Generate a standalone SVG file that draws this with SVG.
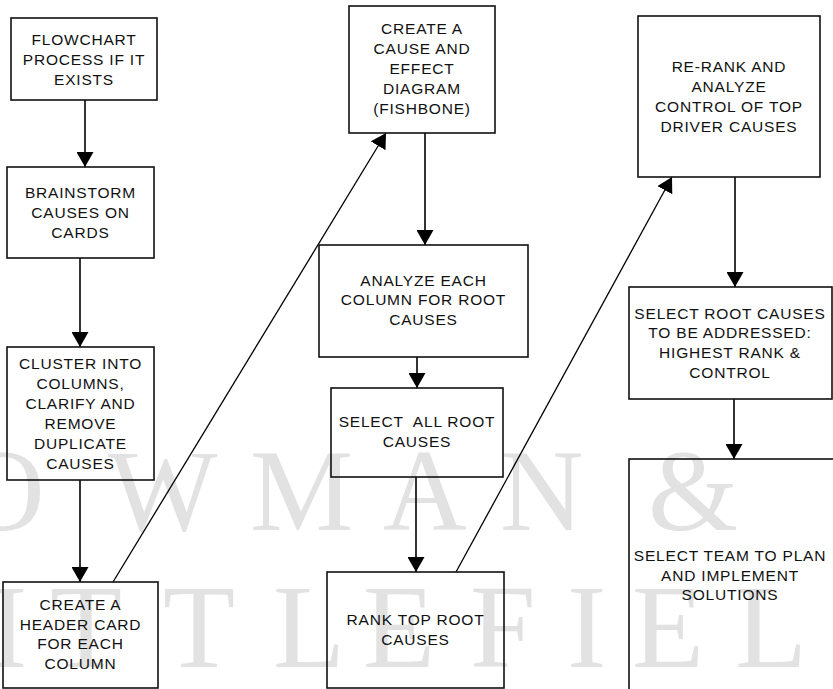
<svg xmlns="http://www.w3.org/2000/svg" width="833" height="689" viewBox="0 0 833 689">
  <defs>
    <marker id="head" viewBox="0 0 15 17" refX="15" refY="8.5" markerWidth="15" markerHeight="17" markerUnits="userSpaceOnUse" orient="auto">
      <path d="M0,0 L15,8.5 L0,17 z" fill="#000"/>
    </marker>
    <style>
      .box { fill: none; stroke: #111; stroke-width: 1.6; }
      .lbl { font-family: "Liberation Sans", Arial, sans-serif; font-size: 15.5px; letter-spacing: 0.8px; fill: #111; text-anchor: middle; }
      .wire { fill: none; stroke: #000; stroke-width: 1.6; marker-end: url(#head); }
      .slant { fill: none; stroke: #000; stroke-width: 1.3; marker-end: url(#head); }
      .mark { font-family: "Liberation Serif", "Times New Roman", serif; fill: #e2e2e2; }
    </style>
  </defs>
  <rect width="833" height="689" fill="#fff"/>

  <!-- publisher watermark behind the chart -->
  <g id="watermark">
    <text class="mark" font-size="116" y="530"><tspan x="-39">O</tspan><tspan x="108">W</tspan><tspan x="250">M</tspan><tspan x="383">A</tspan><tspan x="500">N</tspan><tspan x="648">&amp;</tspan></text>
    <text class="mark" font-size="118" y="667"><tspan x="-12">I</tspan><tspan x="50">T</tspan><tspan x="163">T</tspan><tspan x="273">L</tspan><tspan x="363">E</tspan><tspan x="470">F</tspan><tspan x="567">I</tspan><tspan x="632">E</tspan><tspan x="735">L</tspan></text>
  </g>

  <g id="connectors">
    <line class="wire" x1="85" y1="100" x2="85" y2="167"/>
    <line class="wire" x1="80" y1="258" x2="80" y2="347"/>
    <line class="wire" x1="80" y1="480" x2="80" y2="582"/>
    <line class="slant" x1="113" y1="582" x2="386" y2="133"/>
    <line class="wire" x1="425" y1="133" x2="425" y2="245"/>
    <line class="wire" x1="417" y1="357" x2="417" y2="388"/>
    <line class="wire" x1="416" y1="477" x2="416" y2="572"/>
    <line class="slant" x1="456" y1="572" x2="672" y2="177"/>
    <line class="wire" x1="735" y1="177" x2="735" y2="287"/>
    <line class="wire" x1="734" y1="399" x2="734" y2="459"/>
  </g>

  <g id="flowchart">
    <rect class="box" x="11" y="18" width="146" height="82"/>
    <text class="lbl"><tspan x="84" y="45">FLOWCHART</tspan><tspan x="84" y="65">PROCESS IF IT</tspan><tspan x="84" y="85">EXISTS</tspan></text>
  </g>

  <g id="brainstorm">
    <rect class="box" x="7" y="167" width="147" height="91"/>
    <text class="lbl"><tspan x="80.5" y="198">BRAINSTORM</tspan><tspan x="80.5" y="218">CAUSES ON</tspan><tspan x="80.5" y="238">CARDS</tspan></text>
  </g>

  <g id="cluster">
    <rect class="box" x="7" y="347" width="147" height="133"/>
    <text class="lbl"><tspan x="80.5" y="369">CLUSTER INTO</tspan><tspan x="80.5" y="389">COLUMNS,</tspan><tspan x="80.5" y="409">CLARIFY AND</tspan><tspan x="80.5" y="429">REMOVE</tspan><tspan x="80.5" y="449">DUPLICATE</tspan><tspan x="80.5" y="469">CAUSES</tspan></text>
  </g>

  <g id="header-card">
    <rect class="box" x="3" y="582" width="155" height="106"/>
    <text class="lbl"><tspan x="80.5" y="610">CREATE A</tspan><tspan x="80.5" y="630">HEADER CARD</tspan><tspan x="80.5" y="649">FOR EACH</tspan><tspan x="80.5" y="669">COLUMN</tspan></text>
  </g>

  <g id="fishbone">
    <rect class="box" x="349" y="6" width="146" height="127"/>
    <text class="lbl"><tspan x="422" y="34">CREATE A</tspan><tspan x="422" y="54">CAUSE AND</tspan><tspan x="422" y="74">EFFECT</tspan><tspan x="422" y="94">DIAGRAM</tspan><tspan x="422" y="114">(FISHBONE)</tspan></text>
  </g>

  <g id="analyze">
    <rect class="box" x="319" y="245" width="209" height="112"/>
    <text class="lbl"><tspan x="423.5" y="286">ANALYZE EACH</tspan><tspan x="423.5" y="305">COLUMN FOR ROOT</tspan><tspan x="423.5" y="325">CAUSES</tspan></text>
  </g>

  <g id="select-all">
    <rect class="box" x="331" y="388" width="172" height="89"/>
    <text class="lbl" xml:space="preserve"><tspan x="417" y="427">SELECT  ALL ROOT</tspan><tspan x="417" y="447">CAUSES</tspan></text>
  </g>

  <g id="rank">
    <rect class="box" x="327" y="572" width="177" height="116"/>
    <text class="lbl"><tspan x="415.5" y="625">RANK TOP ROOT</tspan><tspan x="415.5" y="645">CAUSES</tspan></text>
  </g>

  <g id="re-rank">
    <rect class="box" x="638" y="16" width="182" height="161"/>
    <text class="lbl"><tspan x="729" y="72">RE-RANK AND</tspan><tspan x="729" y="92">ANALYZE</tspan><tspan x="729" y="112">CONTROL OF TOP</tspan><tspan x="729" y="132">DRIVER CAUSES</tspan></text>
  </g>

  <g id="select-root">
    <rect class="box" x="629" y="287" width="203" height="112"/>
    <text class="lbl"><tspan x="730" y="319">SELECT ROOT CAUSES</tspan><tspan x="730" y="338">TO BE ADDRESSED:</tspan><tspan x="730" y="358">HIGHEST RANK &amp;</tspan><tspan x="730" y="378">CONTROL</tspan></text>
  </g>

  <g id="select-team">
    <rect class="box" x="629" y="459" width="215" height="250"/>
    <text class="lbl"><tspan x="730" y="561">SELECT TEAM TO PLAN</tspan><tspan x="730" y="581">AND IMPLEMENT</tspan><tspan x="730" y="600">SOLUTIONS</tspan></text>
  </g>
</svg>
